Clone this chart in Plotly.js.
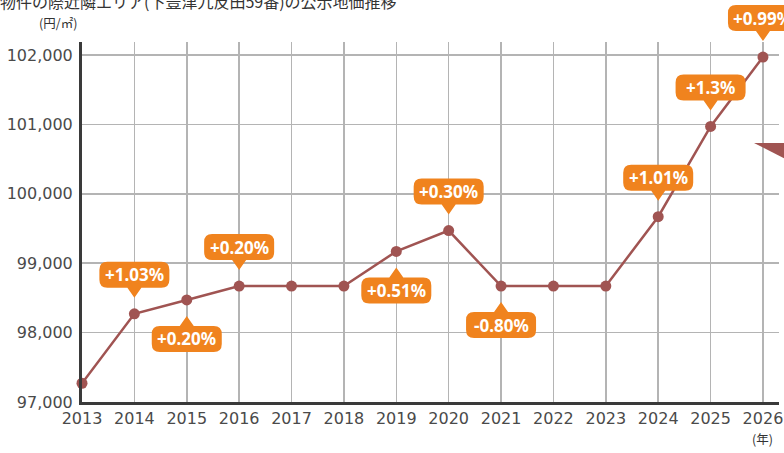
<!DOCTYPE html>
<html>
<head>
<meta charset="utf-8">
<script src="https://cdn.plot.ly/plotly-3.0.1.min.js"></script>
<style>html,body{margin:0;padding:0;background:#fff;}#chart{width:784px;height:453px;}</style>
</head>
<body>
<div id="chart"></div>
<script>
const years = [2013, 2014, 2015, 2016, 2017, 2018, 2019, 2020, 2021, 2022, 2023, 2024, 2025, 2026];
const prices = [97270, 98270, 98470, 98670, 98670, 98670, 99170, 99470, 98670, 98670, 98670, 99670, 100970, 101970];
const changeLabels = ['', '+1.03%', '+0.20%', '+0.20%', '', '', '+0.51%', '+0.30%', '-0.80%', '', '', '+1.01%', '+1.3%', '+0.99%'];
const labelSide = ['', 'above', 'below', 'above', '', '', 'below', 'above', 'below', '', '', 'above', 'above', 'above'];
const yTickVals = [97000, 98000, 99000, 100000, 101000, 102000];

const xRange = [2013, 2026.306];
const yRange = [97000, 102187];
const lineColor = '#a05452';
const orange = '#f0831e';

function px(v, r) { return (v - r[0]) / (r[1] - r[0]); }

const aboveBubble = 'M 0,16 L 7,26 L 27,26 Q 35,26 35,34 L 35,44 Q 35,52 27,52 L -27,52 Q -35,52 -35,44 L -35,34 Q -35,26 -27,26 L -7,26 Z';
const belowBubble = 'M 0,-16 L 7,-26 L 27,-26 Q 35,-26 35,-34 L 35,-44 Q 35,-52 27,-52 L -27,-52 Q -35,-52 -35,-44 L -35,-34 Q -35,-26 -27,-26 L -7,-26 Z';

const shapes = [];
const annotations = [];
years.forEach((yr, i) => {
  if (!changeLabels[i]) return;
  const up = labelSide[i] === 'above';
  shapes.push({
    type: 'path', xref: 'paper', yref: 'paper',
    xsizemode: 'pixel', ysizemode: 'pixel',
    xanchor: px(yr, xRange), yanchor: px(prices[i], yRange),
    path: up ? aboveBubble : belowBubble,
    fillcolor: orange, line: {width: 0}, layer: 'above'
  });
  annotations.push({
    x: yr, y: prices[i], xref: 'x', yref: 'y', showarrow: false,
    text: '<b>' + changeLabels[i] + '</b>',
    yshift: up ? 39 : -39,
    font: {family: 'Noto Sans, sans-serif', size: 17, color: '#ffffff'}
  });
});

// decorative wedge at right edge
shapes.push({
  type: 'path', xref: 'paper', yref: 'paper', xsizemode: 'pixel', ysizemode: 'pixel',
  xanchor: 1, yanchor: 1,
  path: 'M -25,-101 L 20,-101 L 20,-124 Z',
  fillcolor: lineColor, line: {width: 0}, layer: 'above'
});

annotations.push({
  xref: 'paper', yref: 'paper', x: -0.065, y: 1.055, xanchor: 'left', yanchor: 'middle',
  text: '(円/㎡)', showarrow: false,
  font: {family: 'Noto Sans CJK JP, sans-serif', size: 12.5, color: '#333'}
});
annotations.push({
  xref: 'paper', yref: 'paper', x: 0.959, y: -0.1, xanchor: 'left', yanchor: 'middle',
  text: '(年)', showarrow: false,
  font: {family: 'Noto Sans CJK JP, sans-serif', size: 12.5, color: '#333'}
});

const trace = {
  x: years, y: prices, type: 'scatter', mode: 'lines+markers',
  line: {color: lineColor, width: 2.5},
  marker: {color: lineColor, size: 11},
  cliponaxis: false, hoverinfo: 'skip'
};

const layout = {
  width: 784, height: 453,
  margin: {l: 82, r: 5, t: 42, b: 51},
  paper_bgcolor: '#ffffff', plot_bgcolor: '#ffffff',
  showlegend: false,
  title: {
    text: '物件の際近隣エリア(下豊津九反田59番)の公示地価推移',
    x: 0, xref: 'container', xanchor: 'left',
    y: 0.994, yref: 'container', yanchor: 'middle',
    font: {family: 'Noto Sans CJK JP, sans-serif', size: 16, color: '#333'}
  },
  xaxis: {
    range: xRange, tickmode: 'array', tickvals: years, ticktext: years.map(String),
    showgrid: true, gridcolor: '#b4b4b4', gridwidth: 1.5,
    showline: true, linecolor: '#3a3a3a', linewidth: 3,
    zeroline: false, ticks: '',
    tickfont: {family: 'DejaVu Sans, sans-serif', size: 16, color: '#4a4a4a'}
  },
  yaxis: {
    range: yRange, tickmode: 'array', tickvals: yTickVals,
    ticktext: yTickVals.map(v => v.toLocaleString('en-US')),
    showgrid: true, gridcolor: '#b4b4b4', gridwidth: 1.5,
    showline: true, linecolor: '#3a3a3a', linewidth: 3,
    zeroline: false, ticks: '', ticklabelstandoff: 3,
    tickfont: {family: 'DejaVu Sans, sans-serif', size: 16, color: '#4a4a4a'}
  },
  shapes: shapes,
  annotations: annotations
};

Plotly.newPlot('chart', [trace], layout, {displayModeBar: false, staticPlot: true});
</script>
</body>
</html>
